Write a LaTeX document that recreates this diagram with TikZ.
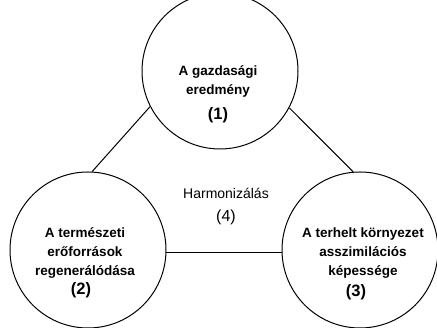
\documentclass[tikz,border=0pt]{standalone}
\usepackage{fontspec}
\setmainfont{Liberation Sans}

\tikzset{
  korben/.style={draw, circle, line width=1pt, minimum size=156pt, inner sep=0pt},
  felirat/.style={align=center, font=\bfseries\fontsize{13.5}{19}\selectfont},
  szam/.style={font=\bfseries\fontsize{16.5}{18}\selectfont},
  kozep/.style={font=\fontsize{14}{17}\selectfont},
  vonal/.style={line width=1pt},
}

\begin{document}
\begin{tikzpicture}[x=1pt,y=1pt]
	%%%%% START %%%%%
	\useasboundingbox (0,0) rectangle (437,328);
	
	\node[korben] (gazd) at (220,257) {};
	\node[korben] (term) at (88,78) {};
	\node[korben] (korny) at (360,78) {};
	
	\draw[vonal] (gazd.207) -- (term.87);
	\draw[vonal] (gazd.332) -- (korny.95);
	\draw[vonal] (term.-2) -- (korny.182);
	
	\node[felirat] (gazdtxt) at (218,247) {A gazdasági\\eredmény};
	\node[szam] (egy) at (218,213) {(1)};
	
	\node[felirat] (termtxt) at (85,75) {A természeti\\erőforrások\\regenerálódása};
	\node[szam] (ketto) at (81,38) {(2)};
	
	\node[felirat] (kornytxt) at (363,75) {A terhelt környezet\\asszimilációs\\képessége};
	\node[szam] (harom) at (356,36) {(3)};
	
	\node[kozep] (harm) at (226,135) {Harmonizálás};
	\node[kozep, font=\fontsize{16}{18}\selectfont] (negy) at (226,111) {(4)};
	
	%%%%% END %%%%%
\end{tikzpicture}
\end{document}
